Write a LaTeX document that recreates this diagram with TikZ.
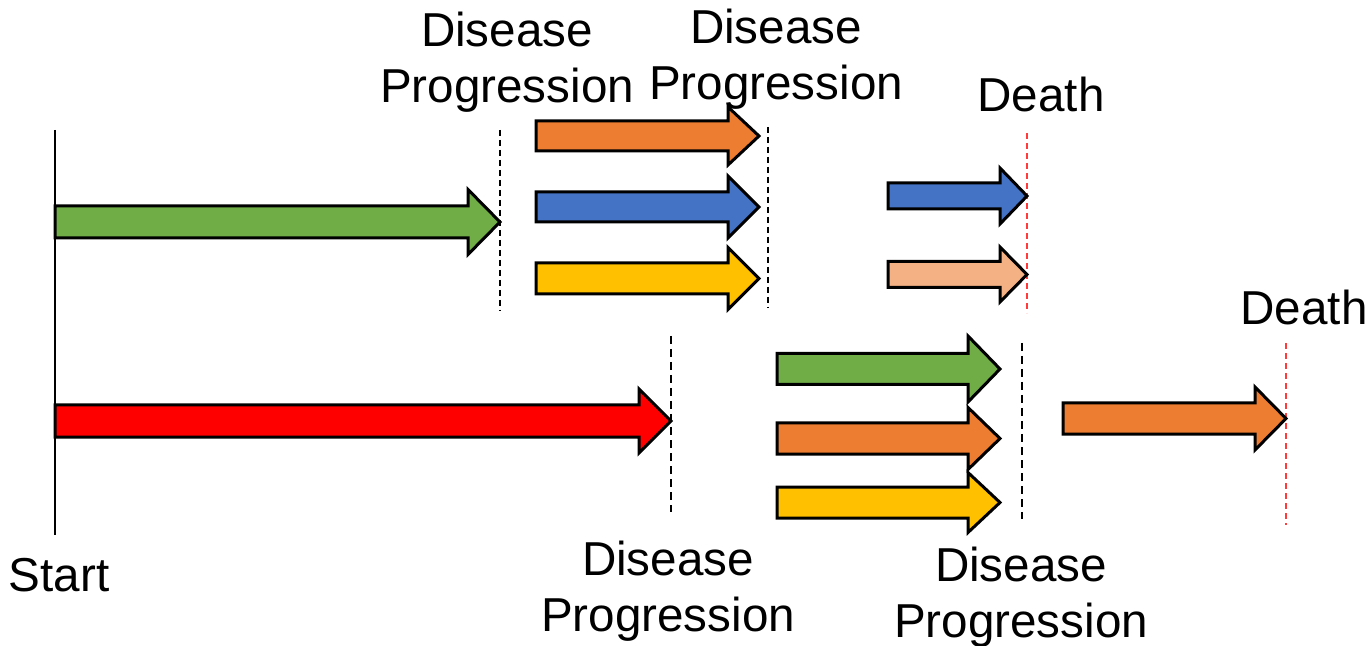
\documentclass[tikz,border=0pt]{standalone}
\usepackage{fontspec}
\setmainfont{Liberation Sans}
\usetikzlibrary{arrows.meta}

\definecolor{pgreen}{HTML}{70AD47}
\definecolor{porange}{HTML}{ED7D31}
\definecolor{pblue}{HTML}{4472C4}
\definecolor{pyellow}{HTML}{FFC000}
\definecolor{ppeach}{HTML}{F4B183}
\definecolor{pred}{HTML}{FF0000}
\definecolor{deathline}{HTML}{FF3B3B}

% block arrow: colour, x start, x tip, y middle, half body, half head, head length
\newcommand{\blockarrow}[7]{%
  \filldraw[arrowbox, fill=#1] (#2,#4-#5) -- (#3-#7,#4-#5) -- (#3-#7,#4-#6) -- (#3,#4)
    -- (#3-#7,#4+#6) -- (#3-#7,#4+#5) -- (#2,#4+#5) -- cycle;}

\begin{document}
\begin{tikzpicture}[
        x=0.5pt, y=-0.5pt,
        lbl/.style={font=\fontsize{23.8}{27.8}\selectfont, inner sep=0, align=center, anchor=north},
        arrowbox/.style={draw=black, line width=1.5pt, line join=miter},
        progline/.style={black, line width=0.8pt, dash pattern=on 3pt off 2pt},
        boldprog/.style={black, line width=1pt, dash pattern=on 4pt off 2.5pt},
        deathmark/.style={deathline, line width=0.7pt, dash pattern=on 3pt off 2pt}
        ]
        \useasboundingbox (0,0) rectangle (1370,646);

        % --- Time axis and event markers ---
        \coordinate (s0) at (55,130);
        \coordinate (s1) at (55,535);
        \draw[line width=0.8pt] (s0) -- (s1);

        \coordinate (dpA0) at (500,130);  \coordinate (dpA1) at (500,311);
        \coordinate (dpB0) at (768,127);  \coordinate (dpB1) at (768,308);
        \coordinate (dpC0) at (671,336);  \coordinate (dpC1) at (671,512);
        \coordinate (dpD0) at (1022,343); \coordinate (dpD1) at (1022,519);
        \coordinate (dA0) at (1027,133);  \coordinate (dA1) at (1027,313);
        \coordinate (dB0) at (1286,343);  \coordinate (dB1) at (1286,525);

        \draw[progline] (dpA0) -- (dpA1);
        \draw[progline] (dpB0) -- (dpB1);
        \draw[boldprog] (dpC0) -- (dpC1);
        \draw[boldprog] (dpD0) -- (dpD1);
        \draw[deathmark] (dA0) -- (dA1);
        \draw[deathmark] (dB0) -- (dB1);

        % --- Upper row of arrows ---
        \blockarrow{pgreen}{55}{500}{222}{16}{32.5}{32}
        \blockarrow{porange}{536}{759}{136}{15}{29}{31}
        \blockarrow{pblue}{536}{759}{207}{15}{31}{31}
        \blockarrow{pyellow}{536}{759}{278.5}{15.5}{31}{31}
        \blockarrow{pblue}{888}{1027}{196}{13}{28}{27}
        \blockarrow{ppeach}{888}{1027}{274.5}{13}{27.5}{27}

        % --- Lower row of arrows ---
        \blockarrow{pred}{55}{671}{421}{16}{32}{32}
        \blockarrow{pgreen}{777}{1000}{369}{15.5}{33}{32}
        \blockarrow{porange}{777}{1000}{438.5}{15.5}{31}{32}
        \blockarrow{pyellow}{777}{1000}{502.5}{15.5}{30}{32}
        \blockarrow{porange}{1063}{1286}{418.5}{15.5}{31.5}{31}

        % --- Labels ---
        \node[lbl] (progA) at (507,12)  {Disease\\Progression};
        \node[lbl] (progB) at (776,9)  {Disease\\Progression};
        \node[lbl] (deathA) at (1041,77) {Death};
        \node[lbl] (deathB) at (1304,290) {Death};
        \node[lbl] (start) at (59,558) {Start};
        \node[lbl] (progC) at (668,541) {Disease\\Progression};
        \node[lbl] (progD) at (1021,547) {Disease\\Progression};
\end{tikzpicture}
\end{document}
